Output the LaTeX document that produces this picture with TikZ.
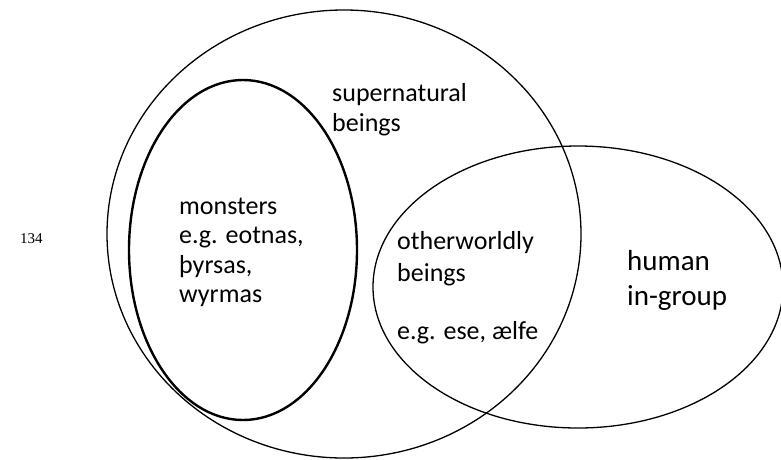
\documentclass[tikz,border=0pt]{standalone}
\usepackage{fontspec}
\setmainfont{Carlito}
\newfontfamily\pagenumfont{Liberation Serif}
\usetikzlibrary{shapes.geometric}
\begin{document}
\begin{tikzpicture}[x=1pt,y=-1pt,
  setline/.style={draw=black, line width=1.3pt},
  thickline/.style={draw=black, line width=2.4pt},
  lbl/.style={anchor=base west, inner sep=0pt, font=\fontsize{26}{30}\selectfont},
  biglbl/.style={anchor=base west, inner sep=0pt, font=\fontsize{29}{35}\selectfont}
]
\useasboundingbox (0,0) rectangle (781,459);
\clip (0,0) rectangle (781,459);
% sets
\node[ellipse, setline, inner sep=0pt, minimum width=474pt, minimum height=448pt] (super) at (344,234) {};
\node[ellipse, thickline, inner sep=0pt, minimum width=228pt, minimum height=340pt] (monst) at (243,250) {};
\node[ellipse, setline, inner sep=0pt, minimum width=410pt, minimum height=282pt] (human) at (578,287) {};
% labels
\node[anchor=base west, inner sep=0pt, font=\pagenumfont\fontsize{15}{18}\selectfont] (pg) at (20,243) {134};
\node[lbl] (s1) at (332,101) {supernatural};
\node[lbl] (s2) at (332,131) {beings};
\node[lbl] (m1) at (179,214) {monsters};
\node[lbl] (m2) at (179,243.5) {e.g. eotnas,};
\node[lbl] (m3) at (179,273) {þyrsas,};
\node[lbl] (m4) at (179,302.5) {wyrmas};
\node[lbl] (o1) at (397,249) {otherworldly};
\node[lbl] (o2) at (397,281) {beings};
\node[lbl] (o3) at (397,339) {e.g. ese, ælfe};
\node[biglbl] (h1) at (627,270) {human};
\node[biglbl] (h2) at (627,305) {in-group};
\end{tikzpicture}
\end{document}
